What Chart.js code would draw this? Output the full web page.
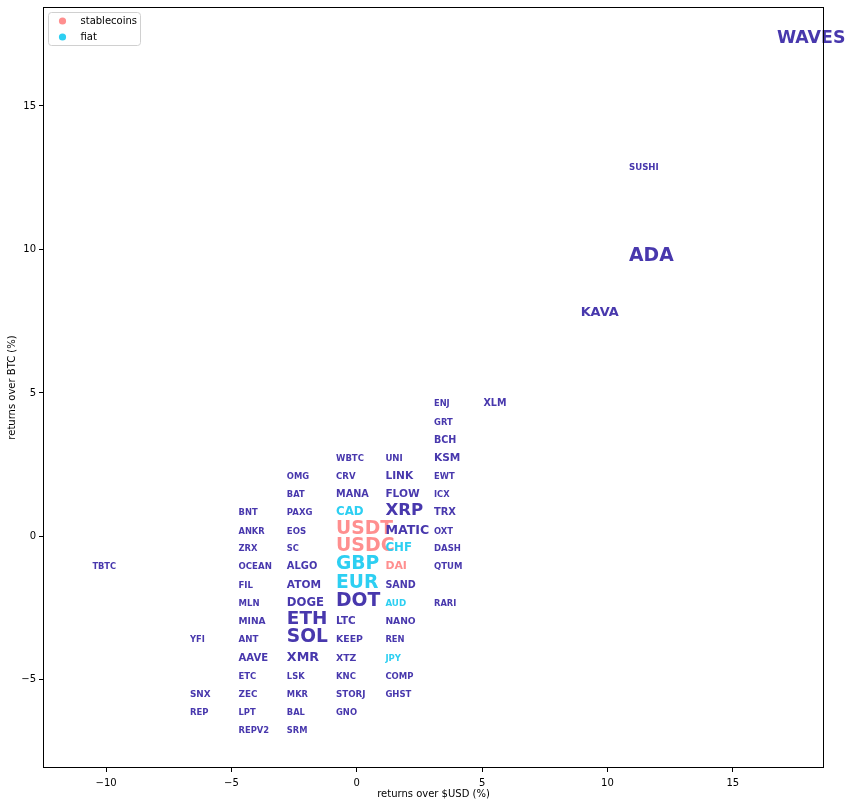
<!DOCTYPE html>
<html>
<head>
<meta charset="utf-8">
<script src="https://cdn.jsdelivr.net/npm/chart.js@4"></script>
<style>
  html, body { margin: 0; padding: 0; background: #fff; }
  #chart { display: block; }
</style>
</head>
<body>
<canvas id="chart" width="852" height="806"></canvas>
<script>
// coins vs BTC / USD returns, label size = weight of the coin
const cryptoNames = ['WAVES','SUSHI','ADA','KAVA','XLM',
  'ENJ','GRT','BCH','KSM','EWT','ICX','TRX','OXT','DASH','QTUM','RARI',
  'UNI','LINK','FLOW','XRP','MATIC','SAND','NANO','REN','COMP','GHST',
  'WBTC','CRV','MANA','DOT','LTC','KEEP','XTZ','KNC','STORJ','GNO',
  'OMG','BAT','PAXG','EOS','SC','ALGO','ATOM','DOGE','ETH','SOL','XMR','LSK','MKR','BAL','SRM',
  'BNT','ANKR','ZRX','OCEAN','FIL','MLN','MINA','ANT','AAVE','ETC','ZEC','LPT','REPV2',
  'YFI','SNX','REP','TBTC'];
const cryptoUsd = [16.76,10.86,10.86,8.93,5.05,
  3.08,3.08,3.08,3.08,3.08,3.08,3.08,3.08,3.08,3.08,3.08,
  1.14,1.14,1.14,1.14,1.14,1.14,1.14,1.14,1.14,1.14,
  -0.83,-0.83,-0.83,-0.83,-0.83,-0.83,-0.83,-0.83,-0.83,-0.83,
  -2.79,-2.79,-2.79,-2.79,-2.79,-2.79,-2.79,-2.79,-2.79,-2.79,-2.79,-2.79,-2.79,-2.79,-2.79,
  -4.72,-4.72,-4.72,-4.72,-4.72,-4.72,-4.72,-4.72,-4.72,-4.72,-4.72,-4.72,-4.72,
  -6.66,-6.66,-6.66,-10.55];
const cryptoBtc = [17.18,12.78,9.59,7.69,4.54,
  4.54,3.90,3.27,2.64,2.01,1.37,0.73,0.10,-0.52,-1.15,-2.42,
  2.64,2.01,1.37,0.73,0.10,-1.79,-3.06,-3.69,-4.97,-5.60,
  2.64,2.01,1.37,-2.42,-3.06,-3.69,-4.33,-4.97,-5.60,-6.23,
  2.01,1.37,0.73,0.10,-0.52,-1.15,-1.79,-2.42,-3.06,-3.69,-4.33,-4.97,-5.60,-6.23,-6.86,
  0.73,0.10,-0.52,-1.15,-1.79,-2.42,-3.06,-3.69,-4.33,-4.97,-5.60,-6.23,-6.86,
  -3.69,-5.60,-6.23,-1.15];
const cryptoSize = [17.4,8.6,18.8,12.9,9.6,
  8.3,8.4,9.6,10.6,8.4,8.3,9.9,8.4,8.5,8.5,8.3,
  8.6,10.6,10.6,16.6,12.6,9.6,9.2,8.4,8.5,8.5,
  8.5,8.6,9.7,18.8,10.4,9.4,9.4,8.5,8.7,8.4,
  8.4,8.3,8.5,8.6,8.3,9.9,10.6,11.7,18.4,18.6,12.7,8.3,8.3,8.3,8.3,
  8.4,8.3,8.4,8.6,8.6,8.5,9.1,8.7,10.1,8.5,8.9,8.4,8.4,
  8.4,8.9,8.5,8.3];

const stableNames = ['USDT','USDC','DAI'];
const stableUsd = [-0.83,-0.83,1.14];
const stableBtc = [0.10,-0.52,-1.15];
const stableSize = [18.7,18.9,10.9];

const fiatNames = ['CAD','GBP','EUR','CHF','AUD','JPY'];
const fiatUsd = [-0.83,-0.83,-0.83,1.14,1.14,1.14];
const fiatBtc = [0.73,-1.15,-1.79,-0.52,-2.42,-4.33];
const fiatSize = [11.8,18.7,18.7,11.8,8.7,8.5];

const purple = '#4838ad';
const pink = '#ff8f8f';
const cyan = '#2dcff2';
const FONT = '"DejaVu Sans", sans-serif';

function pts(xs, ys) {
    return xs.map((x, i) => ({x: x, y: ys[i]}));
}

const labelSets = [
    {names: stableNames, size: stableSize, color: pink},
    {names: fiatNames, size: fiatSize, color: cyan},
    {names: cryptoNames, size: cryptoSize, color: purple}
];

const textLabels = {
    id: 'textLabels',
    afterDatasetsDraw(chart) {
        const c = chart.ctx;
        c.save();
        c.textAlign = 'left';
        c.textBaseline = 'alphabetic';
        chart.data.datasets.forEach((ds, di) => {
            const info = labelSets[di];
            chart.getDatasetMeta(di).data.forEach((p, i) => {
                c.font = 'bold ' + info.size[i] + 'px ' + FONT;
                c.fillStyle = info.color;
                c.fillText(info.names[i], p.x, p.y);
            });
        });
        c.restore();
    }
};

const frameAndLegend = {
    id: 'frameAndLegend',
    afterDraw(chart) {
        const c = chart.ctx;
        const a = chart.chartArea;
        c.save();
        c.strokeStyle = '#000';
        c.lineWidth = 1;
        c.strokeRect(Math.round(a.left) + 0.5, Math.round(a.top) + 0.5,
            Math.round(a.right - a.left) - 1, Math.round(a.bottom - a.top) - 1);

        // legend box, top left inside the plot
        const lx = a.left + 5.5, ly = a.top + 5.5;
        c.beginPath();
        c.roundRect(lx, ly, 92, 33, 3);
        c.fillStyle = 'rgba(255,255,255,0.8)';
        c.fill();
        c.strokeStyle = '#d0d0d0';
        c.stroke();
        const items = [['stablecoins', pink], ['fiat', cyan]];
        c.font = '10px ' + FONT;
        c.textBaseline = 'middle';
        c.textAlign = 'left';
        items.forEach((it, i) => {
            const y = ly + 8.5 + i * 16;
            c.beginPath();
            c.arc(lx + 14, y, 3.6, 0, Math.PI * 2);
            c.fillStyle = it[1];
            c.fill();
            c.fillStyle = '#000';
            c.fillText(it[0], lx + 32, y);
        });
        c.restore();
    }
};

const tickFmt = v => (v < 0 ? '\u2212' + Math.abs(v) : String(v));

new Chart(document.getElementById('chart'), {
    type: 'scatter',
    data: {
        datasets: [
            {label: 'stablecoins', data: pts(stableUsd, stableBtc), pointRadius: 0, backgroundColor: pink},
            {label: 'fiat', data: pts(fiatUsd, fiatBtc), pointRadius: 0, backgroundColor: cyan},
            {label: 'crypto', data: pts(cryptoUsd, cryptoBtc), pointRadius: 0, backgroundColor: purple}
        ]
    },
    options: {
        responsive: false,
        animation: false,
        events: [],
        layout: {padding: {top: 7, right: 28, left: 0, bottom: 0}},
        plugins: {
            legend: {display: false},
            tooltip: {enabled: false}
        },
        scales: {
            x: {
                type: 'linear',
                min: -12.52,
                max: 18.64,
                ticks: {stepSize: 5, includeBounds: false, callback: tickFmt,
                    font: {family: FONT, size: 10}, color: '#000', padding: 5, maxRotation: 0},
                grid: {drawOnChartArea: false, tickLength: 4, tickColor: '#000'},
                border: {display: false},
                title: {display: true, text: 'returns over $USD (%)', color: '#000',
                    font: {family: FONT, size: 10}, padding: {top: 3, bottom: 6}},
                afterFit: s => {
                    s.height = 38;
                    s.paddingLeft = 0;
                    s.paddingRight = 0;
                }
            },
            y: {
                type: 'linear',
                min: -8.07,
                max: 18.45,
                ticks: {stepSize: 5, includeBounds: false, callback: tickFmt,
                    font: {family: FONT, size: 10}, color: '#000', padding: 3},
                grid: {drawOnChartArea: false, tickLength: 4, tickColor: '#000'},
                border: {display: false},
                title: {display: true, text: 'returns over BTC (%)', color: '#000',
                    font: {family: FONT, size: 10}, padding: {top: 6, bottom: 2}},
                afterFit: s => {
                    s.width = 43;
                    s.paddingTop = 0;
                    s.paddingBottom = 0;
                }
            }
        }
    },
    plugins: [textLabels, frameAndLegend]
});
</script>
</body>
</html>
